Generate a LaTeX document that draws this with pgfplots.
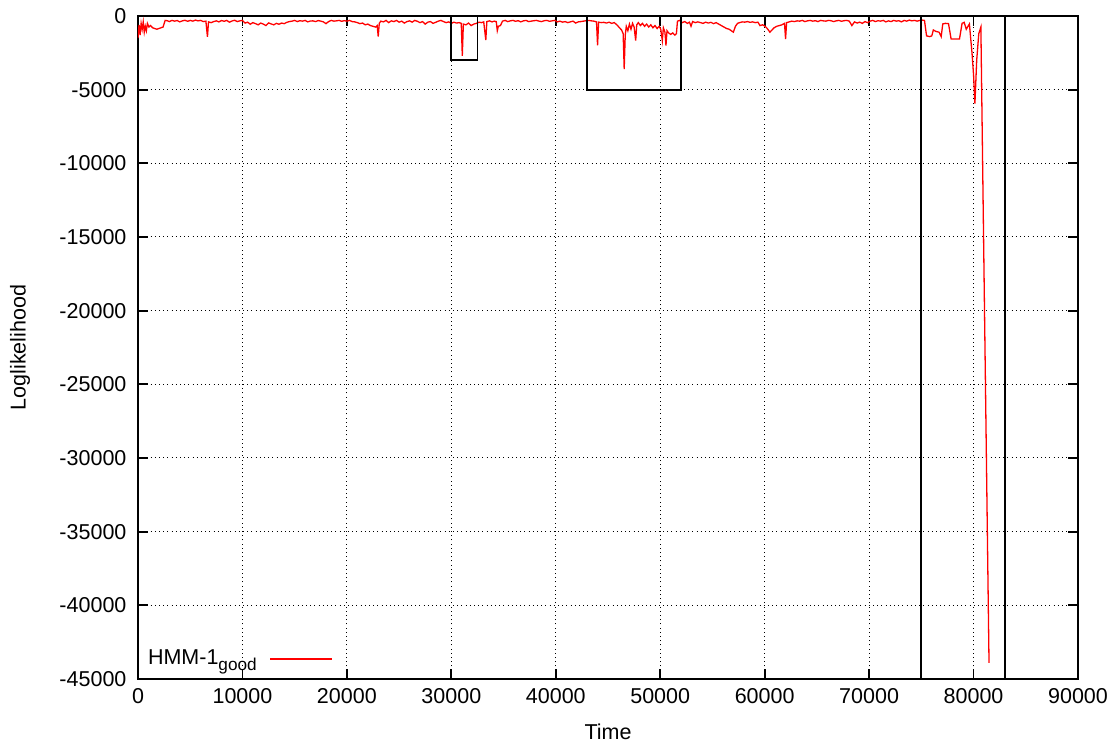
\documentclass[border=0pt]{standalone}
\usepackage{fontspec}
\setmainfont{Liberation Sans}
\usepackage{pgfplots}
\usepackage{pgfplotstable}
\pgfplotsset{compat=1.18}

% Loglikelihood of HMM-1 (good model) over time
\pgfplotstableread{
x y
0 -1500
100 -600
200 -1300
300 -500
400 -900
500 -400
600 -1100
700 -700
800 -1000
900 -500
1050 -750
1200 -650
1400 -800
1600 -850
1800 -900
2000 -850
2200 -800
2400 -750
2600 -300
2800 -320
3000 -380
3250 -300
3500 -350
3750 -310
4000 -400
4250 -330
4500 -290
4750 -360
5000 -300
5250 -350
5500 -280
5750 -330
6000 -300
6250 -380
6500 -350
6650 -1420
6750 -400
7000 -450
7250 -380
7500 -330
7750 -400
8000 -310
8250 -360
8500 -300
8750 -420
9000 -340
9250 -290
9500 -380
9750 -330
10000 -300
10250 -480
10500 -420
10750 -560
11000 -450
11250 -520
11500 -600
11750 -480
12000 -550
12250 -650
12500 -470
12750 -540
13000 -600
13250 -500
13500 -560
13750 -480
14000 -520
14250 -430
14500 -380
14750 -350
15000 -300
15250 -380
15500 -320
15750 -350
16000 -300
16250 -400
16500 -340
16750 -330
17000 -380
17250 -310
17500 -350
17750 -400
18000 -520
18250 -380
18500 -300
18750 -350
19000 -330
19250 -300
19500 -360
19750 -320
20000 -350
20250 -300
20500 -380
20750 -400
21000 -450
21250 -520
21500 -480
21750 -600
22000 -550
22250 -650
22500 -700
22750 -750
22900 -650
23000 -1400
23100 -500
23250 -350
23500 -400
23750 -300
24000 -450
24250 -330
24500 -380
24750 -300
25000 -420
25250 -350
25500 -480
25750 -380
26000 -330
26250 -420
26500 -300
26750 -360
27000 -450
27250 -380
27500 -550
27750 -420
28000 -380
28250 -500
28500 -430
28750 -350
29000 -300
29250 -380
29500 -450
29750 -400
30000 -500
30250 -420
30500 -480
30750 -450
30950 -500
31050 -2700
31150 -550
31400 -600
31650 -480
31900 -650
32150 -550
32400 -500
32650 -420
32900 -450
33100 -400
33300 -1630
33400 -380
33650 -330
33900 -400
34100 -350
34300 -380
34400 -1000
34500 -700
34700 -650
34900 -350
35150 -300
35400 -380
35650 -330
35900 -300
36150 -360
36400 -320
36650 -400
36900 -330
37150 -300
37400 -380
37650 -350
37900 -320
38150 -300
38400 -350
38650 -380
38900 -320
39150 -300
39400 -360
39650 -330
39900 -300
40150 -400
40400 -350
40650 -420
40900 -380
41150 -450
41400 -400
41650 -350
41900 -480
42150 -400
42400 -380
42650 -350
42900 -320
43150 -300
43400 -330
43650 -350
43900 -400
44000 -2000
44100 -420
44350 -450
44600 -430
44850 -480
45100 -420
45350 -500
45600 -450
45850 -600
46100 -800
46300 -950
46450 -1200
46550 -3600
46650 -1300
46750 -700
46900 -1000
47050 -550
47200 -900
47350 -500
47500 -750
47650 -1670
47750 -600
47900 -450
48100 -650
48300 -500
48500 -700
48700 -550
48900 -750
49100 -600
49300 -800
49500 -650
49700 -850
49900 -700
50050 -900
50200 -1670
50300 -800
50450 -1100
50550 -2000
50650 -1000
50800 -1150
51000 -1250
51200 -1150
51400 -1300
51550 -1200
51650 -350
51850 -300
52100 -450
52350 -380
52600 -500
52800 -420
52950 -700
53100 -380
53350 -450
53600 -400
53850 -450
54100 -500
54350 -420
54600 -480
54850 -430
55100 -520
55350 -450
55600 -550
55850 -650
56100 -750
56350 -850
56600 -900
56800 -1000
57000 -1100
57200 -700
57400 -500
57600 -450
57850 -400
58100 -420
58350 -380
58600 -430
58850 -400
59100 -450
59350 -420
59550 -650
59800 -600
60050 -700
60300 -900
60500 -1100
60700 -950
60900 -800
61150 -700
61400 -650
61650 -600
61900 -500
62000 -1560
62100 -450
62350 -400
62600 -350
62850 -380
63100 -330
63350 -350
63600 -300
63850 -380
64100 -330
64350 -300
64600 -350
64850 -320
65100 -380
65350 -300
65600 -330
65850 -350
66100 -300
66350 -320
66600 -380
66850 -330
67100 -300
67350 -360
67600 -320
67850 -300
68100 -350
68350 -650
68600 -400
68850 -480
69100 -420
69350 -500
69600 -380
69850 -450
70100 -350
70350 -300
70600 -380
70850 -320
71100 -350
71350 -300
71600 -400
71850 -330
72100 -380
72350 -300
72600 -350
72850 -320
73100 -400
73350 -300
73600 -350
73850 -280
74100 -330
74350 -300
74600 -350
74850 -300
75100 -280
75300 -300
75500 -1350
75800 -1400
76000 -1350
76150 -950
76400 -1050
76700 -1100
76900 -1400
77050 -540
77300 -500
77600 -520
77850 -1560
78650 -1560
78900 -500
79100 -430
79300 -900
79600 -540
79850 -2500
80000 -4000
80130 -5950
80300 -3000
80500 -1200
80700 -750
81480 -43900
}\hmmgood

\newcommand{\sub}[1]{\raisebox{-0.45ex}{\fontsize{8.6}{10}\selectfont #1}}

\begin{document}
\fontsize{10.75}{13}\selectfont
\begin{tikzpicture}
\begin{axis}[
  scale only axis,
  width=470pt, height=331.5pt,
  xmin=0, xmax=90000,
  ymin=-45000, ymax=0,
  xtick={0,10000,...,90000},
  ytick={-45000,-40000,...,0},
  scaled ticks=false,
  /pgf/number format/assume math mode=true,
  /pgf/number format/1000 sep={},
  tick label style={font=\fontsize{10.75}{13}\selectfont},
  xticklabel style={yshift=-1pt},
  yticklabel style={xshift=-2pt},
  label style={font=\fontsize{10.75}{13}\selectfont},
  xlabel={Time},
  ylabel={Loglikelihood},
  xlabel style={at={(axis description cs:0.5,-0.08)}, anchor=center},
  ylabel style={at={(axis description cs:-0.1255,0.5)}, anchor=center},
  grid=major,
  major grid style={black, line width=0.5pt, dash pattern=on 0.5pt off 1.6pt},
  axis line style={black, line width=0.9pt},
  major tick length=5pt,
  every tick/.style={black, line width=0.9pt},
  legend plot pos=right,
  legend cell align=left,
  legend style={at={(axis description cs:0.006,0.03)}, anchor=west,
    draw=none, fill=none, inner sep=0pt,
    font=\fontsize{10.75}{13}\selectfont},
  legend image code/.code={\path (0pt,0pt); \draw[#1, red, line width=0.75pt] (4.5pt,0pt) -- (35.5pt,0pt);},
]
\coordinate (sw) at (rel axis cs:0,0);
\coordinate (ne) at (rel axis cs:1,1);

\addplot[red, line width=0.65pt] table[x=x, y=y] {\hmmgood};
\addlegendentry{HMM-1\sub{good}}

% highlighted regions
\addplot[black, line width=0.9pt, forget plot] coordinates
  {(30000,0) (30000,-3000) (32500,-3000) (32500,0)};
\addplot[black, line width=0.9pt, forget plot] coordinates
  {(43000,0) (43000,-5000) (52000,-5000) (52000,0)};
\addplot[black, line width=0.9pt, forget plot] coordinates
  {(75000,0) (75000,-45000) (83000,-45000) (83000,0) (75000,0)};
\end{axis}
\pgfresetboundingbox
\path ([shift={(-69pt,-31.5pt)}]sw) rectangle ([shift={(18pt,8pt)}]ne);
\end{tikzpicture}
\end{document}
